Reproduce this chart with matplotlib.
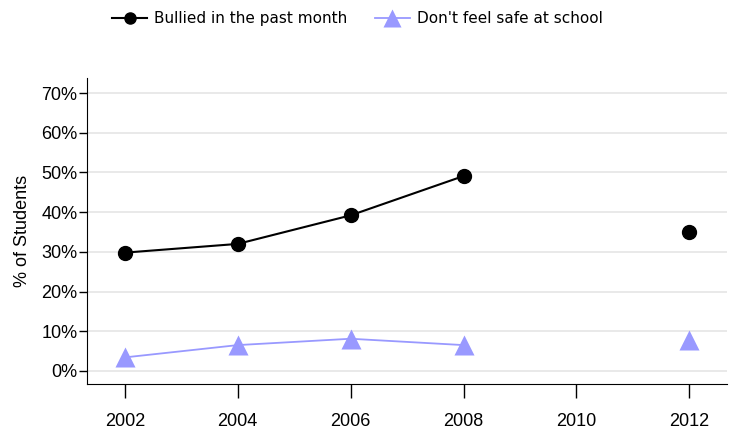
import numpy as np
import matplotlib.pyplot as plt

years = [2002, 2004, 2006, 2008, 2012]
bullied = [29.8, 32.0, 39.2, 49.1, 35.1]
unsafe = [3.4, 6.5, 8.1, 6.5, 7.8]
xticks = [2002, 2004, 2006, 2008, 2010, 2012]
yticks = [0, 10, 20, 30, 40, 50, 60, 70]

purple = "#9999ff"

fig = plt.figure(figsize=(7.33, 4.36), dpi=100)
ax = fig.add_axes([0.1187, 0.1193, 0.8733, 0.7017])

# connected through 2008 only, 2012 stands alone
ax.plot(years[:4], bullied[:4], "-", color="black", lw=1.5, zorder=3)
ax.plot(years, bullied, "o", color="black", ms=10, zorder=4)
ax.plot(years[:4], unsafe[:4], "-", color=purple, lw=1.3, zorder=3)
ax.plot(years, unsafe, "^", color=purple, ms=14, mec="none", zorder=4)

ax.set_xlim(2001.33, 2012.67)
ax.set_ylim(-3.3, 73.8)
ax.set_xticks(xticks)
ax.set_yticks(yticks)
ax.set_yticklabels([f"{v}%" for v in yticks])
ax.yaxis.grid(color="#e3e3e3", lw=1.1)
ax.set_axisbelow(True)
for s in ["top", "right"]:
    ax.spines[s].set_visible(False)
ax.tick_params(axis="x", length=10, width=1, pad=11, labelsize=13)
ax.tick_params(axis="y", length=6, width=1, pad=1, labelsize=13)
for lab in ax.get_xticklabels() + ax.get_yticklabels():
    lab.set_family("Liberation Sans")
for lab in ax.get_yticklabels():
    lab.set_va("center_baseline")
ax.set_ylabel("% of Students", family="Liberation Sans", fontsize=13, labelpad=7)

h1, = ax.plot([], [], "-o", color="black", lw=1.5, ms=8)
h2, = ax.plot([], [], "-^", color=purple, lw=1.3, ms=13, mec="none")
fig.legend([h1, h2], ["Bullied in the past month", "Don't feel safe at school"],
           loc="upper left", bbox_to_anchor=(0.134, 1.006), ncol=2, frameon=False,
           handlelength=2.3, columnspacing=1.8, handletextpad=0.45,
           prop={"family": "DejaVu Sans", "size": 11})

plt.savefig("out.png", dpi=100)
